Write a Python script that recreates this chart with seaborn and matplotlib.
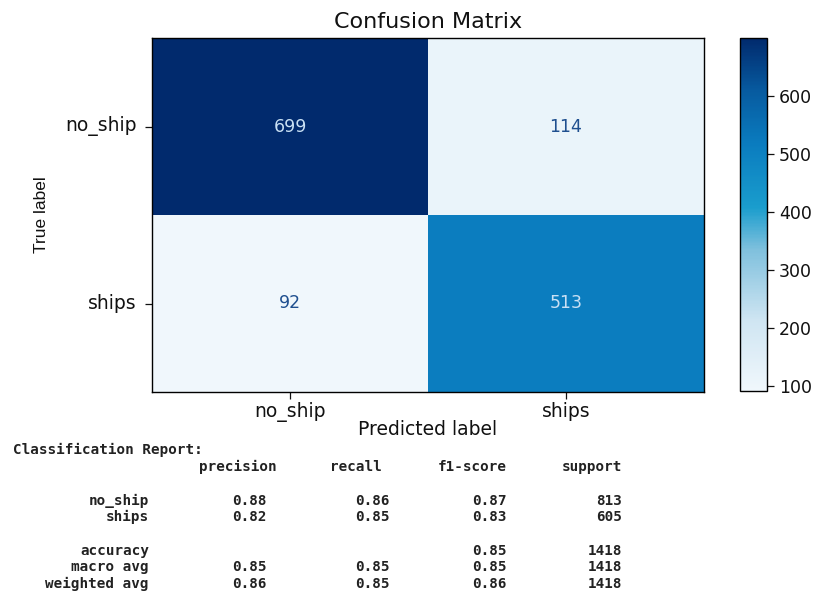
import matplotlib
matplotlib.use("Agg")
import matplotlib.pyplot as plt
from matplotlib import font_manager
from matplotlib.colors import LinearSegmentedColormap
import numpy as np
import pandas as pd
import seaborn as sns

# Confusion matrix (rows: true label, columns: predicted label)
class_names = ["no_ship", "ships"]
counts_no_ship = [699, 114]
counts_ships = [92, 513]
colorbar_ticks = [100, 200, 300, 400, 500, 600]

# Classification report values
report_headers = ["precision", "recall", "f1-score", "support"]
precision = [0.88, 0.82]
recall = [0.86, 0.85]
f1_score = [0.87, 0.83]
support = [813, 605]
accuracy = 0.85
total_support = 1418
macro_avg = [0.85, 0.85, 0.85]
weighted_avg = [0.86, 0.85, 0.86]

W, H = 820, 592
fig = plt.figure(figsize=(W / 100, H / 100), dpi=100)


def fx(px):
    return px / W


def fy(py):
    return 1 - py / H


def first_family(candidates):
    for fam in candidates:
        try:
            font_manager.findfont(fam, fallback_to_default=False)
            return fam
        except Exception:
            continue
    return "DejaVu Sans"


# A vivid blue ramp in the spirit of "Blues"
cmap = LinearSegmentedColormap.from_list(
    "vivid_blues",
    [(0.00, "#f0f7fc"),
     (0.20, "#cfe5f2"),
     (0.40, "#7fc0dd"),
     (0.52, "#1a9dcd"),
     (0.70, "#0a7cbf"),
     (0.85, "#075ba0"),
     (1.00, "#012a6d")])

ax = fig.add_axes([fx(152), fy(392), fx(704) - fx(152), fy(38) - fy(392)])
cax = fig.add_axes([fx(740), fy(391), fx(767) - fx(740), fy(38) - fy(391)])

cm = pd.DataFrame([counts_no_ship, counts_ships], index=class_names, columns=class_names)

sns.heatmap(cm, ax=ax, cbar_ax=cax, cmap=cmap, annot=True, fmt="d",
            annot_kws={"fontsize": 12.5})

# Text colour flips at the midpoint of the colour range
vals = cm.to_numpy().ravel()
thresh = (vals.min() + vals.max()) / 2.0
for txt, v in zip(ax.texts, vals):
    txt.set_color("#c9e0f4" if v > thresh else "#1f4f8f")

for s in ax.spines.values():
    s.set_visible(True)
    s.set_color("black")
    s.set_linewidth(1.0)

ax.tick_params(axis="both", which="major", length=5, width=0.9,
               labelsize=13.5, colors="#111111")
ax.tick_params(axis="y", pad=6)
ax.tick_params(axis="x", pad=2)
ax.set_yticklabels(class_names, rotation=0)
ax.set_xticklabels(class_names, rotation=0)
ax.set_xlabel("Predicted label", fontsize=13.5, labelpad=-1, color="#111111")
ax.set_ylabel("True label", fontsize=12.5,
              family=first_family(["Liberation Sans Narrow", "Liberation Sans"]),
              labelpad=12, color="#111111")
ax.set_title("Confusion Matrix", fontsize=16, pad=7, color="#111111")

cb = ax.collections[0].colorbar
cb.outline.set_visible(True)
cb.outline.set_linewidth(1.0)
cb.outline.set_edgecolor("black")
cb.set_ticks(colorbar_ticks)
cax.tick_params(labelsize=12.5, length=5, width=0.9, colors="#111111")

# Classification report, laid out in fixed-width text
mono = {"family": "DejaVu Sans Mono", "fontsize": 10.3, "fontweight": "semibold",
        "color": "#222222"}

fig.text(fx(13), fy(450), "Classification Report:", ha="left", va="center", **mono)

header_right = [277, 382, 507, 622]
value_right = [267, 390, 507, 622]
label_right = 149

for name, xr in zip(report_headers, header_right):
    fig.text(fx(xr), fy(467), name, ha="right", va="center", **mono)


def report_row(y, label, metrics, count):
    fig.text(fx(label_right), fy(y), label, ha="right", va="center", **mono)
    for i, m in enumerate(metrics):
        if m is None:
            continue
        fig.text(fx(value_right[i]), fy(y), f"{m:.2f}", ha="right", va="center", **mono)
    fig.text(fx(value_right[3]), fy(y), f"{count}", ha="right", va="center", **mono)


report_row(501, class_names[0], [precision[0], recall[0], f1_score[0]], support[0])
report_row(517, class_names[1], [precision[1], recall[1], f1_score[1]], support[1])
report_row(551, "accuracy", [None, None, accuracy], total_support)
report_row(567, "macro avg", macro_avg, total_support)
report_row(584, "weighted avg", weighted_avg, total_support)

fig.savefig("out.png", dpi=100, facecolor="white")
